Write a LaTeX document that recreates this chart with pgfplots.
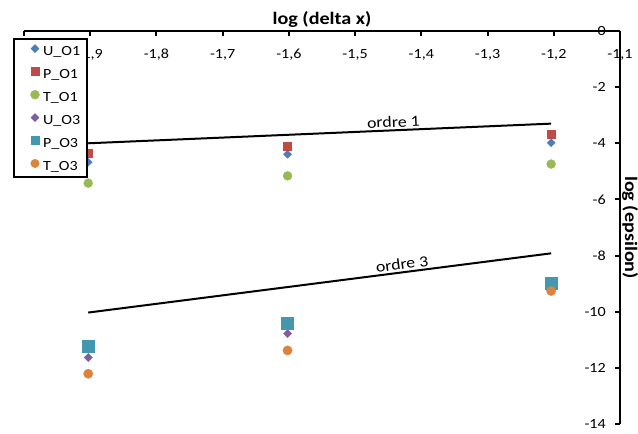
\documentclass[border=0pt]{standalone}
\usepackage{pgfplots}
\pgfplotsset{compat=1.18}
\usepackage{fontspec}
\setmainfont{Carlito}[FakeStretch=1.15]
\definecolor{cU1}{HTML}{4A7EBB}
\definecolor{cP1}{HTML}{BE4B48}
\definecolor{cT1}{HTML}{98B954}
\definecolor{cU3}{HTML}{7D5FA0}
\definecolor{cP3}{HTML}{4198AF}
\definecolor{cT3}{HTML}{DB843D}
\begin{document}
\begin{tikzpicture}
\begin{axis}[
  scale only axis, width=596pt, height=393pt,
  xmin=-2, xmax=-1.1, ymin=-14, ymax=0,
  axis x line=top, axis y line=right,
  axis line style={-, line width=2pt},
  xtick={-2,-1.9,-1.8,-1.7,-1.6,-1.5,-1.4,-1.3,-1.2,-1.1},
  ytick={0,-2,-4,-6,-8,-10,-12,-14},
  tick align=inside, major tick length=5pt,
  tick style={line width=2pt, black},
  /pgf/number format/use comma,
  /pgf/number format/assume math mode=true,
  xticklabel style={font=\fontsize{14}{17}\selectfont, inner sep=0pt, anchor=base, yshift=-28pt},
  yticklabel style={font=\fontsize{14}{17}\selectfont, inner sep=0pt, anchor=east, xshift=-14pt},
  xlabel={log (delta x)},
  ylabel={log (epsilon)},
  every axis x label/.style={at={(axis description cs:0.5,1)}, anchor=base, yshift=6pt, font=\bfseries\fontsize{17.5}{20}\selectfont},
  every axis y label/.style={at={(axis description cs:1,0.5)}, xshift=5pt, rotate=-90, anchor=base, font=\bfseries\fontsize{17.5}{20}\selectfont},
  legend cell align=left,
  legend style={at={(axis description cs:0,1)}, anchor=north west, xshift=-11pt, yshift=-7pt,
    draw=black, line width=2pt, fill=white, font=\fontsize{14}{16}\selectfont,
    inner xsep=7pt, inner ysep=5.5pt, row sep=10.5pt, nodes={inner sep=0pt}},
  every axis plot post/.append style={legend image code/.code={\path[draw=none,fill=none] (0pt,-3pt) rectangle (22pt,3pt); \draw[##1] plot coordinates {(14pt,3pt)};}},
]
\addplot[black, line width=2pt, forget plot] coordinates {(-1.903,-4.0) (-1.204,-3.3)}
  node[pos=0.66, sloped, above, font=\fontsize{15.5}{18}\selectfont, inner sep=2pt] {ordre 1};
\addplot[black, line width=2pt, forget plot] coordinates {(-1.903,-10.03) (-1.204,-7.92)}
  node[pos=0.68, sloped, above, font=\fontsize{15.5}{18}\selectfont, inner sep=2pt] {ordre 3};
\addplot[only marks, mark=square*, mark size=2.9pt, color=cU1, mark options={rotate=45, line width=0.3pt}]
  coordinates {(-1.903,-4.67) (-1.602,-4.39) (-1.204,-3.98)};
\addplot[only marks, mark=square*, mark size=4pt, color=cP1, mark options={line width=0.3pt}]
  coordinates {(-1.903,-4.35) (-1.602,-4.10) (-1.204,-3.67)};
\addplot[only marks, mark=*, mark size=4.5pt, color=cT1, mark options={line width=0.3pt}]
  coordinates {(-1.903,-5.42) (-1.602,-5.16) (-1.204,-4.74)};
\addplot[only marks, mark=square*, mark size=2.9pt, color=cU3, mark options={rotate=45, line width=0.3pt}]
  coordinates {(-1.903,-11.63) (-1.602,-10.78) (-1.204,-9.10)};
\addplot[only marks, mark=square*, mark size=6pt, color=cP3, mark options={line width=0.3pt}, legend image post style={mark size=4pt}]
  coordinates {(-1.903,-11.21) (-1.602,-10.39) (-1.204,-8.99)};
\addplot[only marks, mark=*, mark size=4.7pt, color=cT3, mark options={line width=0.3pt}, legend image post style={mark size=4.3pt}]
  coordinates {(-1.903,-12.21) (-1.602,-11.38) (-1.204,-9.26)};
\legend{U\_O1, P\_O1, T\_O1, U\_O3, P\_O3, T\_O3}
\path (rel axis cs:0,0) coordinate (bl) (rel axis cs:1,1) coordinate (tr);
\end{axis}
\pgfresetboundingbox
\useasboundingbox ([shift={(-24pt,-9pt)}]bl) rectangle ([shift={(18pt,31pt)}]tr);
\end{tikzpicture}
\end{document}
